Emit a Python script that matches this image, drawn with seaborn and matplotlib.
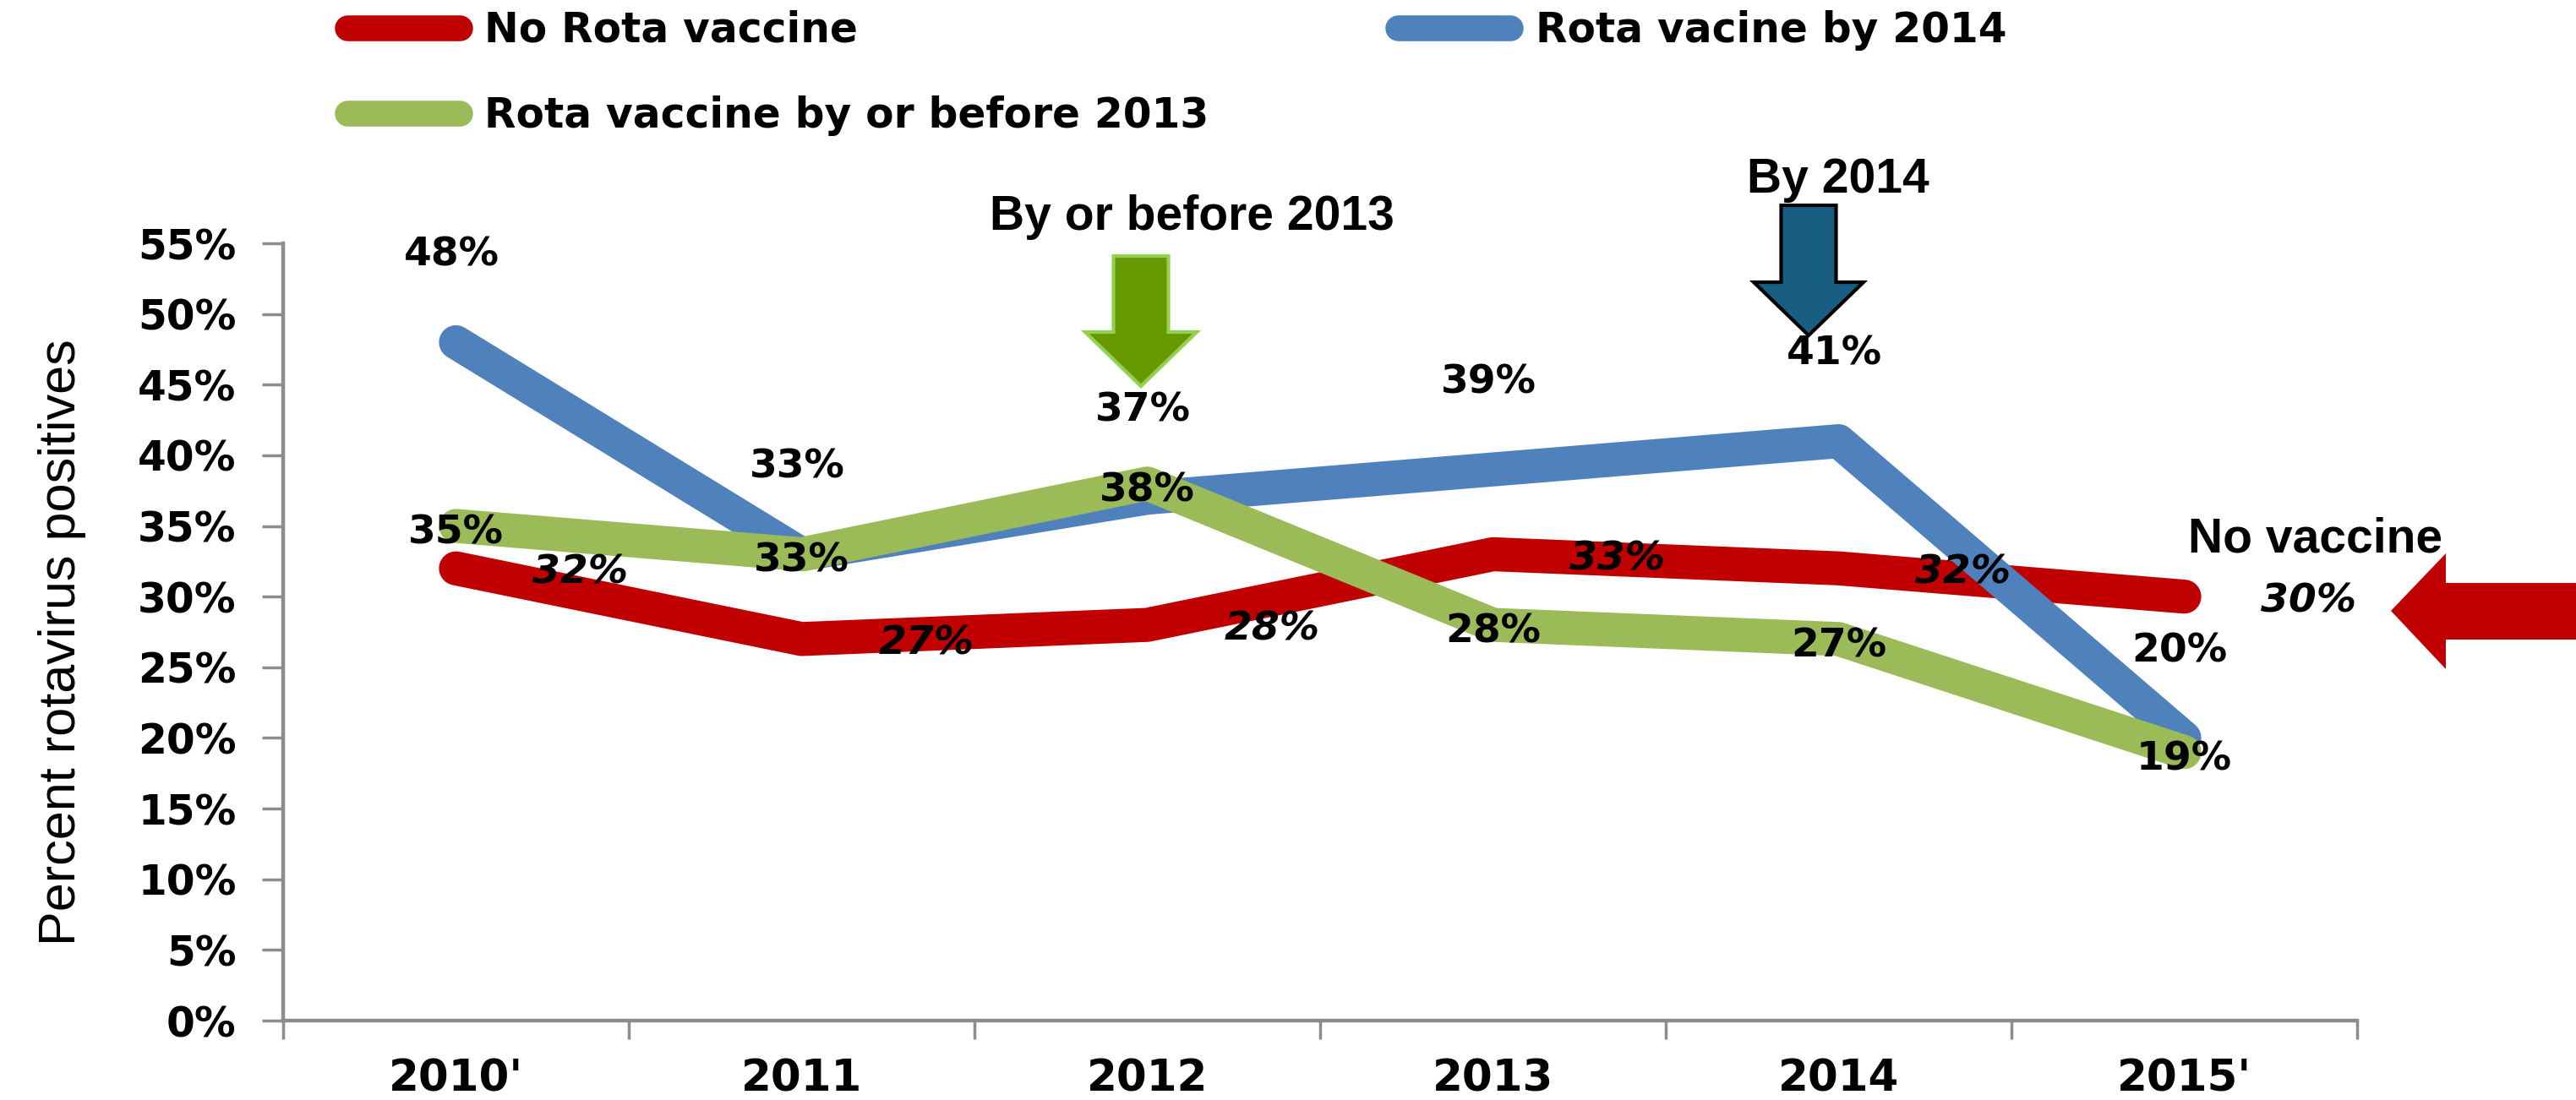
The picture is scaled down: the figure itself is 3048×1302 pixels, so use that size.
import numpy as np
import pandas as pd
import seaborn as sns
import matplotlib.pyplot as plt
from matplotlib.patches import Polygon

# Chart data
years = ["2010'", "2011", "2012", "2013", "2014", "2015'"]
no_vaccine = [32, 27, 28, 33, 32, 30]
vaccine_2014 = [48, 33, 37, 39, 41, 20]
vaccine_2013 = [35, 33, 38, 28, 27, 19]
series_names = ["No Rota vaccine", "Rota vacine by 2014", "Rota vaccine by or before 2013"]
colors = ["#C00000", "#4F81BD", "#9BBB59"]
yticks = list(range(0, 60, 5))

positions = list(range(len(years)))
df = pd.DataFrame({
    "pos": positions * 3,
    "value": no_vaccine + vaccine_2014 + vaccine_2013,
    "series": [s for s in series_names for _ in years],
})

W, H = 3048, 1302
sns.set_style("ticks")
plt.rcParams['font.family'] = ['DejaVu Sans']
plt.rcParams['text.color'] = 'black'

fig = plt.figure(figsize=(W / 100, H / 100), dpi=100)
ax = fig.add_axes([335 / W, 1 - 1208 / H, (2789 - 335) / W, (1208 - 288) / H])


def px(x, y):
    # pixel position (from top-left) -> figure fraction
    return (x / W, 1 - y / H)


sns.lineplot(data=df, x="pos", y="value", hue="series", hue_order=series_names,
             palette=colors, sort=False, linewidth=29, solid_capstyle='round',
             solid_joinstyle='round', legend=False, ax=ax)

# Data labels
for i in positions:
    b, g, r = vaccine_2014[i], vaccine_2013[i], no_vaccine[i]
    ax.annotate(f"{b}%", (i, b), xytext=(-4, 74), textcoords='offset points',
                ha='center', va='center', fontsize=34, fontweight='bold')
    ax.annotate(f"{g}%", (i, g), xytext=(0, -6), textcoords='offset points',
                ha='center', va='center', fontsize=34, fontweight='bold')
    ax.annotate(f"{r}%", (i, r), xytext=(106, -4), textcoords='offset points',
                ha='center', va='center', fontsize=34, fontweight='bold',
                fontstyle='italic')

# Axes styling
ax.set_xlim(-0.5, len(years) - 0.5)
ax.set_ylim(0, 55)
ax.set_yticks(yticks)
ax.set_yticklabels([f"{t}%" for t in yticks])
ax.set_xticks(positions)
ax.set_xticklabels(years)
ax.set_xticks(np.arange(-0.5, len(years), 1), minor=True)
ax.set_xlabel("")
ax.set_ylabel("")
ax.tick_params(axis='y', length=18, width=2.5, color='#8C8C8C', labelcolor='black',
               pad=22, labelsize=35)
ax.tick_params(axis='x', which='major', length=0, pad=32, labelsize=37, labelcolor='black')
ax.tick_params(axis='x', which='minor', length=16, width=2.5, color='#8C8C8C')
for lab in ax.get_xticklabels() + ax.get_yticklabels():
    lab.set_fontweight('bold')
sns.despine(ax=ax)
for side in ['left', 'bottom']:
    ax.spines[side].set_color('#8C8C8C')
    ax.spines[side].set_linewidth(3.2)

fig.text(*px(74, 760), "Percent rotavirus positives", rotation=90, ha='center',
         va='center', fontsize=44, family=['Liberation Sans Narrow', 'Liberation Sans'])

# Legend: red & green in first column, blue in second
lines = ax.get_lines()
leg = fig.legend([lines[0], lines[2], lines[1]],
                 [series_names[0], series_names[2], series_names[1]],
                 ncol=2, loc='upper left', bbox_to_anchor=px(411, 12), frameon=False,
                 prop={'weight': 'bold', 'size': 35}, handlelength=2.74,
                 handletextpad=0.6, columnspacing=4.6, labelspacing=1.09,
                 borderpad=0, borderaxespad=0)
for h in leg.get_lines():
    h.set_linewidth(22)


# Arrows
def draw_poly(points, face, edge, lw):
    fig.add_artist(Polygon([px(*p) for p in points], closed=True,
                           transform=fig.transFigure, facecolor=face,
                           edgecolor=edge, linewidth=lw, joinstyle='miter'))


def down_arrow(cx, top, head_y, tip, shaft_w, head_w, face, edge, lw):
    pts = [(cx - shaft_w / 2, top), (cx + shaft_w / 2, top), (cx + shaft_w / 2, head_y),
           (cx + head_w / 2, head_y), (cx, tip), (cx - head_w / 2, head_y),
           (cx - shaft_w / 2, head_y)]
    draw_poly(pts, face, edge, lw)


down_arrow(1350, 303, 393, 457, 65, 132, '#669900', '#92D050', 3)
down_arrow(2140, 243, 334, 397, 65, 130, '#175E82', 'black', 3)
draw_poly([(2829, 723), (2894, 655), (2894, 690), (3060, 690), (3060, 757),
           (2894, 757), (2894, 792)], '#C00000', '#C00000', 0)

fig.text(*px(1410, 257), "By or before 2013", ha='center', va='center',
         fontsize=41, fontweight='bold', family='Liberation Sans')
fig.text(*px(2175, 213), "By 2014", ha='center', va='center',
         fontsize=41, fontweight='bold', family='Liberation Sans')
fig.text(*px(2740, 638), "No vaccine", ha='center', va='center',
         fontsize=41, fontweight='bold', family='Liberation Sans')

fig.savefig('out.png', dpi=100)
